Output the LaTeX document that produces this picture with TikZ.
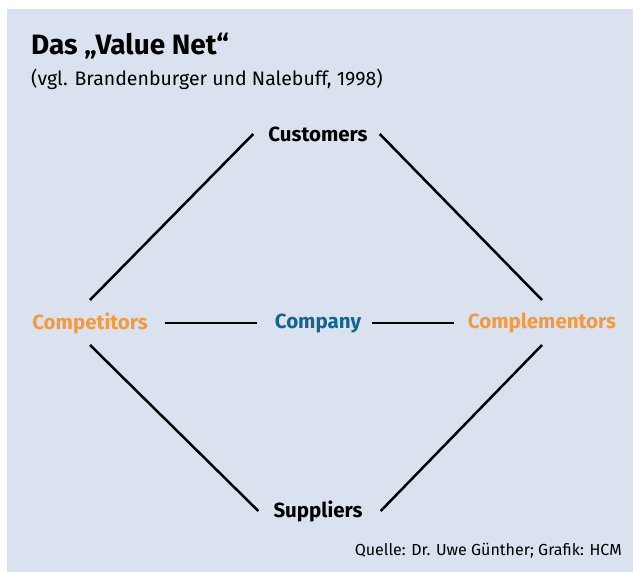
\documentclass[tikz,border=0pt]{standalone}
\usepackage{fontspec}
\setmainfont{Fira Sans}
\definecolor{panel}{RGB}{217,226,238}
\definecolor{actor}{RGB}{243,154,62}
\definecolor{firm}{RGB}{18,100,145}
\begin{document}
\begin{tikzpicture}[x=1pt,y=-1pt,
  label/.style={font=\fontsize{20.5}{22}\selectfont\bfseries, inner sep=0pt, anchor=center},
  link/.style={line width=2.5pt, black}]
\useasboundingbox (0,0) rectangle (633,572);
\fill[panel] (7,9) rectangle (633,572);
% heading
\node[anchor=base west, inner sep=0pt, font=\fontsize{28}{32}\selectfont\bfseries] (title) at (31,55) {Das „Value Net“};
\node[anchor=base west, inner sep=0pt, font=\fontsize{19.5}{22}\selectfont] (sub) at (31,86) {(vgl. Brandenburger und Nalebuff, 1998)};
% the five players
\node[label] (cust) at (318,134) {Customers};
\node[label, text=firm] (firm) at (318,323) {Company};
\node[label, text=actor] (comp) at (90,323) {Competitors};
\node[label, text=actor] (compl) at (542,323) {Complementors};
\node[label] (supp) at (318,511) {Suppliers};
% links (yshift is in canvas direction: positive is up)
\draw[link] ([yshift=23pt]comp.center) -- ([xshift=-15pt]cust.west);
\draw[link] ([xshift=12pt]cust.east) -- ([yshift=23pt]compl.center);
\draw[link] ([yshift=-22pt]comp.center) -- ([xshift=-15pt]supp.west);
\draw[link] ([xshift=18pt]supp.east) -- ([yshift=-22pt]compl.center);
\draw[link] ([xshift=17pt]comp.east) -- ([xshift=-18pt]firm.west);
\draw[link] ([xshift=11pt]firm.east) -- ([xshift=-14pt]compl.west);
% source line
\node[anchor=base east, inner sep=0pt, font=\fontsize{16}{18}\selectfont] (src) at (622,556) {Quelle: Dr. Uwe Günther; Grafik: HCM};
\end{tikzpicture}
\end{document}
